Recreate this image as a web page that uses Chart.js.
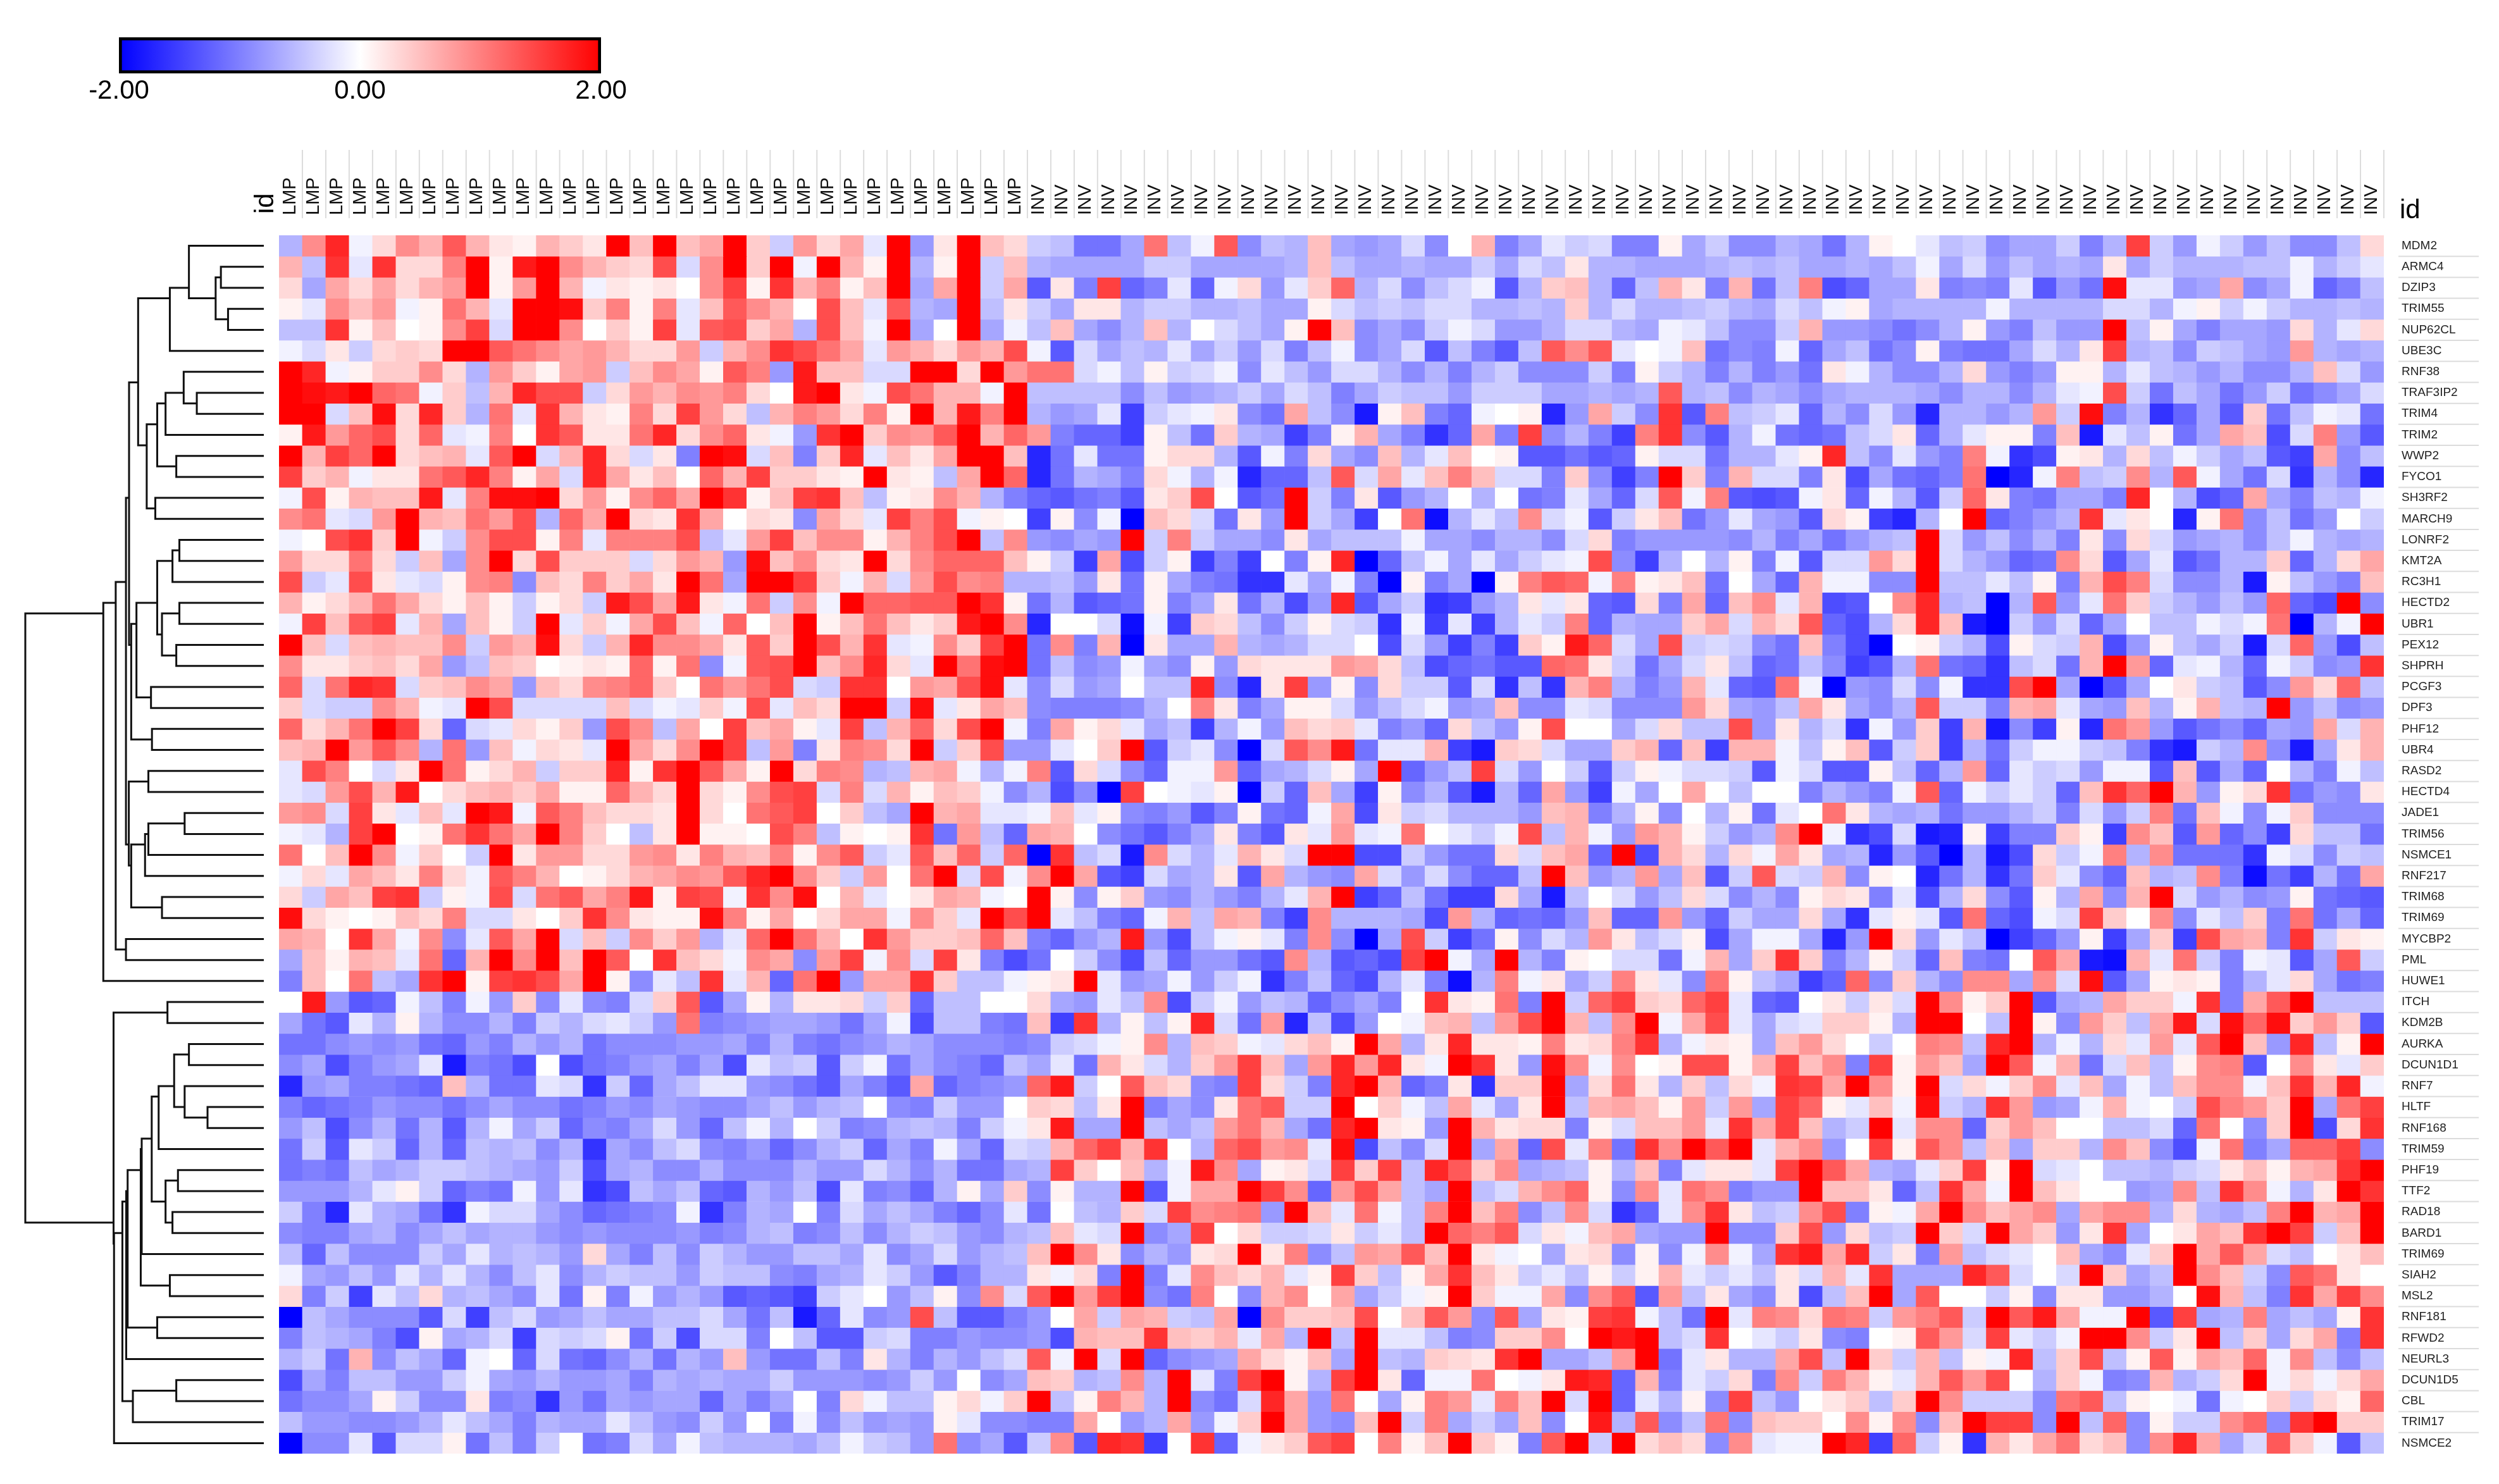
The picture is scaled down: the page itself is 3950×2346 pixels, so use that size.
<!DOCTYPE html>
<html>
<head>
<meta charset="utf-8">
<title>Heatmap</title>
<script src="https://cdn.jsdelivr.net/npm/chart.js@4/dist/chart.umd.min.js"></script>
<style>
  html, body { margin: 0; background: #fff; }
  canvas { position: absolute; }
</style>
</head>
<body>
<canvas id="scaleBar" width="1060" height="130" style="left:0;top:40px"></canvas>
<canvas id="tree" width="430" height="1926" style="left:0;top:372px"></canvas>
<canvas id="heat" width="3950" height="2346" style="left:0;top:0"></canvas>
<script>
/* ===============================
   DATA
================================ */
const groupLmp = Array(32).fill("LMP");
const groupInv = Array(58).fill("INV");
const sampleLabels = groupLmp.concat(groupInv);

const rowNames = ["MDM2","ARMC4","DZIP3","TRIM55","NUP62CL","UBE3C","RNF38","TRAF3IP2","TRIM4","TRIM2",
  "WWP2","FYCO1","SH3RF2","MARCH9","LONRF2","KMT2A","RC3H1","HECTD2","UBR1","PEX12",
  "SHPRH","PCGF3","DPF3","PHF12","UBR4","RASD2","HECTD4","JADE1","TRIM56","NSMCE1",
  "RNF217","TRIM68","TRIM69","MYCBP2","PML","HUWE1","ITCH","KDM2B","AURKA","DCUN1D1",
  "RNF7","HLTF","RNF168","TRIM59","PHF19","TTF2","RAD18","BARD1","TRIM69","SIAH2",
  "MSL2","RNF181","RFWD2","NEURL3","DCUN1D5","CBL","TRIM17","NSMCE2"];

// cell values in tenths of the colour scale, -20 to 20
const row00 = [-6,9,17,-1,3,9,6,13,6,2,1,6,4,2,20,5,20,5,7,20,4,-4,8,3,7,-2,20,-8,2,20, 5,3,-4,-5,-11,-11,-7,11,-5,-1,13,-9,-5,-6,5,-7,-8,-7,-3,-9,0,6,-10,-7,-2,-4,-3,-10,-10,1, -7,-4,-9,-9,-6,-7,-11,-6,1,0,-2,-5,-4,-9,-7,-7,-4,-10,-6,15,-4,-8,-1,-4,-8,-5,-9,-9,-5,3];
const row01 = [6,-5,16,-2,16,3,3,10,20,1,18,20,9,6,4,3,14,-3,9,20,4,20,-1,20,6,1,20,-6,1,20, -4,5,-6,-7,-7,-7,-7,-4,-4,-7,-7,-7,-7,-6,5,-5,-7,-7,-6,-7,-7,-4,-7,-3,-5,2,-6,-6,-7,-7, -7,-6,-5,-6,-5,-7,-7,-6,-7,-5,-1,-7,-3,-8,-5,-7,-6,-7,2,-7,-4,-6,-6,-6,-5,-5,-1,-6,-4,-2];
const row02 = [3,-7,7,3,7,3,6,8,20,1,8,20,6,-1,2,1,2,0,9,15,1,16,6,10,1,5,20,-7,7,20, -4,7,-13,2,-10,15,-12,-10,-2,-12,-1,3,-8,-2,4,12,-6,-3,-9,-5,-3,-1,-13,-6,4,5,-6,-12,-5,6, 2,-10,6,-11,-5,10,-14,-12,-7,-7,2,-10,-9,-10,-2,-13,-8,-11,19,-2,-2,-8,-7,7,-9,-7,-1,-12,-10,-5];
const row03 = [1,-2,9,5,8,-1,1,11,6,-2,20,20,19,4,10,1,10,-2,5,13,9,6,0,14,5,-2,13,-6,-7,20, -5,2,-4,-7,2,2,-6,-4,-4,-6,-6,-5,-7,-7,1,-3,-5,-4,-5,-3,-3,-6,-6,-5,-6,4,-6,-3,-6,-6, -5,-4,-6,-7,-3,-5,-1,1,-7,-6,-6,-6,-6,-1,-6,-6,-6,-6,-3,-3,-6,-1,1,-4,-1,-4,-6,-6,-5,-6];
const row04 = [-5,-5,16,1,5,0,1,9,15,-3,20,20,9,0,4,1,15,-2,13,14,4,7,-6,14,5,-1,20,-7,0,20, -7,-1,-5,5,-7,-9,-6,5,-6,0,-3,-5,-7,1,20,5,-9,-7,-9,-4,-1,-3,-8,-8,-6,-3,-3,-6,-7,-1, -2,-5,-9,-9,-4,6,-8,-8,-9,-11,-9,-6,1,-8,-10,-5,-8,-8,20,-5,1,-7,-10,-7,-7,-8,3,-6,-2,3];
const row05 = [-1,-3,2,-4,3,4,3,20,20,13,11,9,7,8,6,3,3,8,-4,6,9,16,14,11,7,-2,8,6,3,8, 6,14,-1,-13,-3,-7,-5,-6,-2,-7,-4,-8,-3,-10,-5,-1,-9,-7,-3,-13,-5,-10,-13,-5,13,9,13,-2,0,-1, 5,-11,-9,-10,-1,-12,-7,-5,-11,-9,1,-10,-11,-11,-7,-3,-6,2,15,-6,-5,-9,-4,-5,-7,-8,8,-6,-7,-6];
const row06 = [20,17,-1,1,4,4,9,3,-6,8,4,1,7,8,-4,5,9,7,1,13,10,-8,18,5,5,-3,-3,20,20,3, 20,8,11,11,-3,-1,-5,1,-4,-3,-1,-9,-2,-5,-8,-3,-3,-6,-9,-6,-10,-6,-4,-9,-9,-9,-4,-10,1,-4, -6,-10,-6,-10,-8,-11,2,-1,-6,-9,-9,-6,3,-8,-10,-8,1,1,-6,-2,-5,-6,-8,-6,-9,-9,-6,5,-3,-8];
const row07 = [20,19,18,20,12,11,-1,4,-5,6,17,14,14,-4,3,8,6,9,8,10,3,0,18,20,2,-1,14,11,6,6, -1,20,-5,-5,-5,-5,-9,-5,-8,-7,-6,-4,-7,-3,-5,-10,-7,-4,-5,-5,-8,-4,-4,-4,-7,-7,-6,-7,-6,13, -6,-5,-9,-6,-7,-9,-7,-6,-6,-6,-7,-9,-6,-6,-9,-6,-2,-1,14,-4,-11,-5,-7,-11,-8,-4,-11,-9,-7,-3];
const row08 = [20,20,-3,5,19,3,17,4,-6,11,-2,16,6,2,1,10,3,15,8,3,-5,6,10,8,3,10,1,20,6,18, 10,20,-6,-8,-7,-2,-15,-4,-2,-1,2,-9,-11,7,-5,-9,-18,1,5,-10,-12,-1,0,1,-17,-8,7,-4,-9,16, -13,10,-5,-4,-2,-12,-6,-9,-3,-8,-17,-6,-6,-8,-6,8,-4,19,-10,-6,-16,-12,-7,-13,4,-11,-5,-1,-2,-11];
const row09 = [1,18,8,12,14,3,12,-2,-1,10,0,16,13,2,2,11,17,3,9,12,2,-1,-8,16,20,4,9,8,13,20, 6,12,8,-10,-12,-12,-15,1,-5,-11,4,-6,-7,-15,-10,1,6,-7,-10,-16,-12,7,-10,15,-9,-6,-10,-15,10,16, -9,-13,-6,-1,-11,-12,-11,-5,-3,2,-12,-6,-2,1,1,-10,5,-18,-2,-5,1,-11,-7,7,5,-14,-3,10,-8,-13];
const row10 = [20,6,15,12,20,3,5,6,-2,13,20,-3,6,17,3,-3,2,-10,20,19,-3,5,-10,4,17,-2,5,2,7,20, 20,5,-17,-11,-2,-11,-11,1,3,3,-6,-13,-1,-10,3,-7,-9,5,-6,-2,5,0,1,-13,-13,-11,-13,-12,1,-3, -3,-11,-6,-6,-2,1,17,-5,-9,-2,-8,-10,10,-1,-16,-14,1,2,-6,3,-5,-1,-4,-7,-5,-13,-15,7,-9,-5];
const row11 = [15,4,6,-1,2,2,11,13,17,10,1,7,-3,17,7,2,5,0,12,6,15,4,4,2,1,20,2,1,-5,7, 20,12,-17,-11,-6,-7,-10,3,-1,-6,-1,-17,-12,-12,-5,13,-3,7,-2,5,10,5,-3,-3,-10,4,-9,-15,-10,20, 4,-10,6,-3,-3,-10,2,-14,-7,-11,-12,-10,11,-20,-17,-1,10,-5,-4,9,-6,13,-1,-7,-11,-3,-16,-6,-9,-17];
const row12 = [-1,14,1,6,5,5,18,-2,10,19,19,20,3,8,1,9,12,7,20,16,1,5,15,16,5,-5,1,2,9,6, -6,-10,-12,-13,-11,-10,-13,2,4,14,0,-13,-11,20,-4,-10,2,-13,-8,-6,0,-6,0,-11,-10,-2,-7,-12,-3,13, -1,10,-13,-14,-13,-1,2,-12,-1,-6,-13,-4,12,2,-10,-11,-7,-7,-10,17,0,-6,-14,-12,7,-7,-10,-5,-6,-1];
const row13 = [9,11,-2,-3,8,20,6,5,11,8,14,-6,12,7,20,3,2,16,7,0,3,2,-9,7,3,-2,15,10,14,-1, 1,0,-15,1,-9,-1,-20,5,3,-3,-11,2,-8,20,-4,-7,-15,0,11,-19,-6,-2,-5,9,-3,-1,-13,-4,2,5, -11,-8,-2,-7,-8,-13,3,1,-15,-17,-6,0,20,-12,-10,-8,-6,16,-2,2,0,-17,1,11,-9,-5,-11,-8,0,-4];
const row14 = [-1,0,14,16,4,20,-1,-4,9,14,14,1,10,-2,10,10,10,14,-5,-2,8,15,5,9,9,1,6,10,14,20, -5,9,-8,-9,-7,-8,20,-4,10,-4,-7,-7,-9,2,-7,-5,-5,-5,-1,-7,-7,-9,-6,-6,-9,-3,3,-10,-8,-8, -8,-8,-9,-6,-10,-7,-11,-8,-6,-5,20,-3,-8,-5,-9,-6,-10,2,-9,3,-3,-8,-7,-6,-9,-5,-1,-6,-7,-6];
const row15 = [8,3,3,11,3,-4,5,-7,9,20,3,14,4,4,4,-3,3,8,6,-8,19,5,9,3,2,20,3,9,12,12, 12,5,1,-4,-15,7,-14,-4,1,-15,-10,-15,0,-10,1,17,-20,-12,-5,-1,-7,-2,-7,-4,-2,-1,14,-9,-15,-6, 0,-6,1,-10,-1,-13,-3,-3,8,3,20,-3,-6,-8,-12,-11,9,3,-13,-7,-2,-13,-11,-6,-6,4,-12,-6,3,7];
const row16 = [14,-4,-2,14,2,-2,-3,1,9,10,-9,5,3,10,4,7,2,20,11,-7,20,20,15,4,-1,6,-3,8,14,9, 10,-6,-6,-5,-8,2,-11,1,-7,-10,-11,-16,-16,-2,-7,-1,-10,-20,1,-10,-7,-20,1,10,13,12,-1,10,1,2, 5,-11,0,-7,-12,6,-1,-1,-9,-9,20,-5,-5,-2,-5,1,-10,6,14,10,-3,-9,-9,-6,-18,1,-5,-8,-10,5];
const row17 = [6,1,3,6,11,7,3,1,5,1,-4,1,3,-4,18,14,7,18,2,-1,11,-4,9,-1,20,12,12,13,13,20, 16,1,-11,-6,-13,-12,-11,1,-10,-7,2,-11,-6,-14,-8,17,-13,-7,-4,-16,-15,-8,-6,2,-2,2,-12,-13,3,-10, 7,-12,5,9,-2,6,-14,-13,0,9,17,-6,-5,-20,-6,13,-8,-2,11,4,-4,-6,-8,-5,-8,12,-12,-14,20,-9];
const row18 = [-1,15,5,13,15,-2,6,-7,5,1,-4,20,-2,4,-1,7,14,5,-1,12,0,5,20,1,5,11,5,2,4,18, 20,9,-17,0,0,-3,-19,-1,-15,4,3,-5,-9,-4,1,-3,-4,-16,-1,-15,-2,-15,-6,-2,-4,10,-12,-6,-7,-7, 4,7,-3,6,3,13,-12,-14,-6,3,17,5,-18,-20,-4,-8,-3,-12,-7,0,-5,-5,-1,-3,-1,11,-20,-6,-1,20];
const row19 = [20,5,-3,5,6,5,5,9,-4,8,6,19,3,-4,6,17,9,9,7,2,13,4,20,14,6,16,-2,-1,9,4, 15,20,-11,9,-10,6,-20,2,-7,-7,6,-6,-7,-6,-3,-3,0,-14,-3,-8,-15,-10,-15,4,1,18,12,-3,-7,14, -4,-3,-4,-9,-11,5,-10,-14,-20,0,1,-4,-6,-14,1,-3,-4,6,-14,-8,1,-5,-7,-4,-18,-3,12,-8,-14,-5];
const row20 = [9,2,2,4,5,3,7,-8,-5,5,4,0,1,2,1,12,1,11,-9,-1,13,14,20,5,9,17,3,-2,20,11, 19,20,-11,-5,-9,-8,-1,-7,-9,1,-8,3,2,2,2,8,7,3,-5,-14,-12,-11,-13,-13,12,11,2,-4,-11,-7, -3,2,-5,-12,-11,-5,-9,-15,-13,-6,11,-11,-12,-16,-5,-3,-11,6,20,8,-12,-2,-1,-6,-12,-1,-4,-9,-8,16];
const row21 = [12,-3,11,17,16,-3,4,5,9,7,-8,5,3,9,10,12,4,0,11,8,11,14,-3,-4,16,16,0,8,7,14, 19,-2,-9,-3,-8,-7,0,-5,-5,17,-9,-17,2,15,-8,1,-9,3,-4,-4,-13,-3,-16,-5,-16,6,10,-6,-10,-8, 6,-2,-12,-13,11,-1,-20,-8,-9,-3,-9,-1,-16,-16,14,20,-7,-20,-13,-7,0,2,-4,-5,-13,-9,8,3,12,-5];
const row22 = [4,-3,-4,-4,9,6,-1,-2,20,14,-3,-3,-3,-3,5,-3,-1,-2,4,-1,14,-2,5,3,20,20,-4,19,-2,2, 7,5,-9,-10,-10,-10,-9,-6,0,10,2,-10,-7,1,1,-3,-8,-5,-3,-1,-8,-7,5,-9,-9,-2,-3,-9,-9,-9, 8,3,-7,-8,-5,7,2,-7,-9,-6,13,-4,-4,-10,6,7,-2,-7,-8,5,-6,1,6,-5,-6,20,-8,-5,-9,-8];
const row23 = [12,3,6,11,20,15,3,-12,-3,-2,3,1,4,-8,14,9,-5,7,0,15,5,7,1,-2,15,-5,6,12,3,14, 20,-1,-10,7,1,3,-2,-7,-5,-15,-6,-1,-8,5,3,4,-2,-10,-8,-12,3,-5,-8,1,14,0,0,-7,-3,3, -5,-5,14,-8,2,-6,-3,-16,-1,-8,4,-15,6,-18,-9,-15,1,-17,11,8,-8,-13,-11,-9,-12,-7,-8,7,-3,6];
const row24 = [5,6,20,8,13,9,-6,11,-8,5,-1,3,2,-2,20,7,3,9,20,15,-5,8,-10,2,10,9,3,20,-4,4, 14,-8,-8,-2,0,4,20,-13,-4,-2,-9,-20,-3,13,9,18,-11,-2,-2,6,-15,-18,4,3,-3,-7,-7,4,6,-12, 5,-15,6,6,-1,-5,1,5,-13,-4,4,-15,-6,-11,-4,-1,-1,-4,-5,-10,-16,-18,-4,-6,9,-9,-18,-7,2,6];
const row25 = [-2,14,10,0,-3,2,20,11,1,3,6,-4,4,4,17,1,16,20,13,7,1,20,3,10,9,-6,-5,6,7,-1, -6,-1,10,-13,3,-3,-9,-12,-1,-1,8,-12,-7,-6,-3,1,-7,20,-12,-8,-5,15,-3,-8,0,-4,-13,-4,1,-1, -3,-3,-4,-13,-1,-3,-13,-13,1,-5,-12,-6,8,-12,-2,-4,-3,-8,-1,-1,-13,5,-13,-7,-12,0,-6,-10,-1,-5];
const row26 = [-2,-3,8,14,6,18,0,3,5,6,4,7,1,1,12,6,3,20,3,1,9,14,15,-3,10,-3,6,1,5,4, -1,-9,-6,-14,-9,-20,15,0,-1,-2,1,-20,-4,-12,5,-7,-15,1,-9,-6,-13,-18,-6,-12,7,-8,-15,-1,-7,0, 7,0,-5,0,0,-10,-6,-8,-10,-1,13,-12,-1,-4,-2,-4,-12,5,16,12,20,6,-8,1,3,16,-11,-8,-9,2];
const row27 = [8,9,-3,15,2,-2,5,-2,20,18,-1,13,10,5,3,3,2,20,3,0,11,13,15,0,4,-5,-7,20,6,7, -2,-2,-1,5,-2,1,-9,-10,-8,-13,-10,1,-11,-12,-1,7,-14,2,-4,-3,-6,-6,-6,-8,5,6,-10,-6,1,-9, 0,-6,1,-11,-2,0,11,2,-6,-7,-6,-11,-8,-8,-6,-4,-10,-3,-8,-4,10,-11,5,-1,-9,-1,4,-9,-9,-9];
const row28 = [-1,-2,-6,15,20,0,1,11,16,11,7,20,10,4,0,-5,2,20,1,1,0,14,10,-5,1,0,1,16,-11,8, -5,-12,7,6,0,-9,-11,-13,-10,-7,2,-10,-13,2,-2,8,-2,-1,11,0,-2,-4,-1,14,-5,6,-1,-8,8,6, 1,-4,-8,-6,9,20,-1,-16,-14,-3,-18,-17,1,-15,-10,-10,4,1,-15,9,5,-13,8,-12,-9,-15,3,-5,-5,-11];
const row29 = [11,0,5,20,9,-1,4,0,-4,20,2,8,8,3,3,8,9,2,10,6,5,10,1,9,13,-4,-2,13,5,12, -4,12,-20,16,-5,-3,-18,9,-3,-6,-2,6,2,-3,20,20,-14,-14,-4,-8,-11,-11,3,-3,5,7,-12,20,-14,6, 3,-6,3,-1,7,2,-7,-6,-17,-8,-13,-20,-6,-18,-14,3,-4,-1,10,-6,9,-11,-11,-11,-16,-1,-3,-9,-4,-5];
const row30 = [-1,3,-2,7,5,2,10,3,-1,13,10,6,0,1,3,6,7,9,8,13,17,20,9,4,-4,8,0,11,20,-3, 14,-1,9,20,7,-13,-15,-3,-7,-6,2,-13,7,-6,-8,-9,7,-3,-8,-3,-9,-12,-12,-5,20,5,-8,-6,8,-7, 5,-13,-4,13,-3,-4,6,-9,1,0,-17,-11,-6,-16,-11,4,-2,-9,-12,5,-6,-5,9,-10,-19,-11,-15,-6,-11,7];
const row31 = [3,-4,7,5,15,16,-4,1,-1,14,-3,11,13,7,10,18,1,15,14,-1,16,9,19,0,6,-2,0,2,7,6, -1,0,20,1,-9,1,4,-8,-9,-6,-8,-10,-6,-2,6,20,-15,-12,-5,-11,-15,-15,3,-7,-18,-5,0,-3,-8,-5, 3,-3,-9,-6,-9,1,3,2,-10,-2,-14,-6,3,-9,-13,1,-6,7,-9,6,20,-3,-8,-6,-9,-8,1,-11,-12,-13];
const row32 = [19,3,1,0,1,5,3,10,-3,-3,2,0,4,16,9,2,1,1,19,10,1,7,0,3,7,7,-1,9,4,-2, 20,14,20,-2,-5,-10,-12,-1,6,-5,7,6,-10,-15,9,-6,-6,-6,-7,-14,8,-6,-12,-11,-12,-8,5,-12,-12,8, -8,-12,-4,-7,-7,3,-7,-16,-2,1,-2,-13,11,-12,-14,-1,-3,15,4,0,9,-9,-2,-5,4,-10,11,-11,-7,-12];
const row33 = [7,6,0,16,7,-1,9,-9,-2,13,7,20,-3,5,-4,9,4,8,-6,-2,12,20,11,6,0,16,8,4,4,5, 12,5,-10,-12,-8,-6,18,-8,-14,-5,-1,1,-2,-10,9,-9,-20,-7,14,-4,-15,-11,1,-9,-3,-6,8,2,-5,-3, 1,-14,-7,-1,-1,-7,-17,-8,20,3,-8,-2,-5,-20,-15,-12,-8,1,-15,-7,4,-15,14,7,6,-10,16,-4,2,1];
const row34 = [-7,5,1,6,5,-2,11,-12,6,20,9,20,5,20,13,0,16,5,3,-1,9,7,-9,8,15,-1,9,-3,15,2, -10,-14,-11,0,-4,-9,-14,-5,-12,-8,-8,-11,-13,9,-6,-13,-12,-14,15,20,-1,-7,20,-6,-10,1,0,-3,-3,-11, -1,6,-7,4,16,4,-10,-6,1,-4,-12,5,-10,-11,0,13,7,-18,-19,6,-2,11,-4,-10,-1,-2,-13,-7,13,-4];
const row35 = [-10,5,0,11,-5,-7,16,20,1,15,16,14,7,20,1,-9,-2,-5,16,-2,6,-12,11,20,-8,7,7,16,4,-5, -5,-1,1,2,20,-2,-8,-7,-1,-8,-4,-1,-16,-10,-5,-12,-14,-6,-2,-10,-19,-6,10,-1,2,-7,-4,10,2,-2, -9,11,1,-5,-7,-15,-12,12,-9,4,-6,-9,9,9,-7,9,-3,19,-13,-7,1,2,1,-10,-6,-2,3,-7,-11,-10];
const row36 = [0,18,-8,-13,-12,-1,-5,-10,-1,-8,4,-9,-2,-9,-10,-3,4,13,-13,-7,1,-6,2,2,3,-4,4,-12,-5,-5, 0,0,3,-7,-8,-2,-5,9,-14,-4,-1,-8,-5,-6,-12,-9,-7,-10,0,16,2,1,11,-10,20,-4,12,15,4,3, 12,15,-2,-12,-13,0,2,-4,2,-3,20,9,1,4,20,-13,-7,-6,7,4,4,-1,16,-10,7,13,20,-5,-5,-5];
const row37 = [-7,-11,-13,-2,-6,1,-6,-9,-9,-6,-10,-4,-6,-3,-2,-4,-8,11,-10,-9,-8,-7,-7,-8,-11,-7,-1,-14,-5,-5, -10,-11,5,-15,16,-6,1,-5,1,17,-3,-11,8,-17,-5,-14,-8,0,-1,5,6,-5,8,14,20,6,-5,9,20,-1, 7,14,-2,-7,-3,-2,4,4,1,-6,20,20,0,-5,20,1,-9,8,4,-5,7,18,-3,19,12,19,4,8,4,-13];
const row38 = [-11,-11,-9,-8,-9,-8,-11,-12,-8,-10,-6,-8,-6,-11,-9,-9,-9,-8,-8,-7,-10,-6,-10,-11,-9,-8,-6,-7,-9,-9,-9,-10,-9,-4,-3,-1,1,9,-6,5,4,-1,-2,3,5, 1,20,7,-6,2,17,2,2,1,10,2,3,10,16,-6,-1,2,1,-7,5,8,3,0,-4,0,10,9,-5,17,20,-6,-1,-6,3,-2,8,-2,13,20,5,-8,17,-5,1,20];
const row39 = [-9,-7,-14,-10,-8,-7,-2,-18,-10,-11,-14,0,-14,-11,-10,-8,-7,-10,-7,-14,-2,-5,-4,-13,-4,-1,-11,-7,-9,-10,-12,-5,-7,-2,-11,6,2,-3,-6,4,8,15,5,-7,8, 17,8,17,2,-1,20,16,2,-8,19,9,-1,9,0,1,14,14,1,6,15,5,9,-10,15,1,8,5,-7,20,13,-1,6,-11,-3,5,-5,1,9,10,-13,0,9,2,-2,4];
const row40 = [-17,-8,-7,-10,-10,-11,-12,5,-6,-11,-11,-2,-3,-16,-4,-12,-7,-5,-2,-2,-8,-9,-11,-13,-7,-10,-13,7,-12,-10,-9,-8,12,18,-4,0,13,5,3,-9,-10,15,3,-4,-10, 17,20,6,-12,-10,2,-16,4,4,20,-7,3,11,2,-6,4,-5,3,-1,16,15,7,20,9,1,20,-3,3,-1,4,9,-2,5,-7,-1,-5,5,9,9,-1,5,16,6,17,-1];
const row41 = [-10,-12,-11,-10,-8,-9,-9,-11,-9,-7,-9,-9,-11,-10,-8,-9,-7,-8,-9,-9,-7,-5,-8,-6,-5,0,-9,-10,-4,-8,-8,0,4,3,-5,2,20,-10,-7,-9,2,11,13,-4,-4, 20,0,4,-1,-5,7,-2,-7,2,20,-5,6,7,5,1,8,-4,8,-7,15,12,1,-2,5,-1,19,-4,-6,16,8,-8,-7,-1,6,-1,0,-4,14,10,8,4,20,-7,11,15];
const row42 = [-8,-5,-14,-9,-6,-11,-6,-13,-6,-1,-7,-4,-12,-9,-10,-7,-3,-8,-12,-5,-1,-6,0,-4,-10,-9,-6,-5,-6,-10,-4,-1,2,18,-7,-7,20,-5,-7,-5,8,11,6,-7,-11, 17,20,2,1,-8,20,6,2,3,3,-10,1,-3,5,5,8,-2,16,7,15,5,-6,-4,20,-2,9,9,-12,4,8,5,0,0,-5,-5,-3,-12,11,0,-9,4,20,-14,3,16];
const row43 = [-11,-4,-13,-2,-4,-12,-6,-12,-5,-6,-5,-9,-6,-16,-7,-9,-5,-3,-9,-10,-8,-12,-9,-6,-4,-12,-7,-10,-1,-7,-12,-3,-4,6,12,15,6,16,0,-6,12,14,8,9,-2, 19,-14,-5,-9,-3,20,-7,7,-12,14,-2,10,-11,16,9,20,13,20,-2,6,9,-8,0,15,1,13,9,-5,5,-7,4,4,-6,9,5,-9,-14,-1,11,-10,-7,12,12,15,-9];
const row44 = [-11,-10,-11,-5,-7,-6,-4,-4,-5,-6,-7,-8,-4,-14,-7,-6,-9,-9,-6,-9,-9,-9,-6,-8,-8,-3,-6,-9,-6,-11,-11,-7,-6,15,4,0,5,-6,-1,18,9,-7,1,2,-3, 15,4,15,-5,17,13,4,9,-7,-6,-5,1,-6,5,-10,-2,2,2,-2,15,20,13,7,-6,-7,-2,4,15,1,20,-3,-2,0,-5,-5,-6,-4,-3,2,5,1,6,7,16,20];
const row45 = [-8,-8,-8,-6,-2,1,-4,-12,-10,-11,-1,-8,-2,-16,-14,-5,-7,-5,-12,-13,-6,-8,-5,-14,-2,-10,-9,-12,-6,1,-7,4,-9,1,-6,-6,20,-13,-1,7,7,20,15,9,-12, 8,14,7,-5,-7,20,-5,-3,6,9,12,1,-9,9,-2,11,9,-10,-8,-8,20,5,5,2,-12,-5,16,7,-1,20,5,2,0,0,-8,-7,9,-5,16,9,-1,-6,2,20,16];
const row46 = [-4,-10,-17,-2,-6,-7,-11,-16,-1,-3,-3,-7,-9,-12,-11,-10,-9,-1,-16,-10,-6,-7,0,-10,-3,-7,-5,-7,-10,-12,-9,-2,-11,0,-5,-6,4,-3,15,9,10,11,-8,20,5, -2,11,-1,-5,10,20,5,10,-9,-5,9,-3,-16,-12,-2,9,16,2,-5,-4,9,14,-10,1,-1,7,20,9,5,7,9,-7,7,9,9,-6,3,-6,-7,-5,10,20,6,7,20];
const row47 = [-9,-10,-10,-7,-6,-9,-7,-5,-7,-6,-6,-8,-9,-8,-9,-9,-9,-8,-10,-9,-6,-5,-10,-9,-5,-9,-6,-4,-5,-8,-9,-6,-5,5,-2,-3,20,-9,-7,15,0,3,-4,-4,-3, 2,-4,-2,-5,20,12,10,13,-3,2,-1,5,7,-7,-8,-8,20,-9,-9,4,14,-8,3,-5,-4,20,4,-3,20,7,4,-8,2,16,-7,0,2,7,5,16,20,15,-4,5,20];
const row48 = [-5,-12,-5,-9,-9,-9,-4,-7,-2,-6,-5,-6,-8,3,-7,-10,-5,-9,-4,-6,-8,-8,-5,-5,-7,-2,-9,-7,-3,-8,-6,-5,5,20,9,2,-9,-6,-8,2,3,20,2,10,-9, -5,8,7,13,5,20,2,-1,0,-7,2,3,-9,1,-9,-1,9,-1,-7,16,18,7,17,-4,2,-10,8,-5,-3,-2,0,5,-7,-9,-2,4,20,7,13,7,-3,-5,0,2,5];
const row49 = [-1,-7,-8,-5,-8,-2,-6,-2,-6,-9,-5,-2,-9,-6,-4,-5,-5,-8,-4,-5,-5,-9,-10,-7,-6,-2,-4,-8,-13,-10,-6,-6,2,-1,3,-10,20,-10,-2,9,5,3,6,-2,1, 15,4,-5,1,7,16,5,2,-4,-2,-5,1,-4,1,6,-2,-4,-2,-5,2,-3,6,-2,16,-7,-7,-7,17,13,-3,0,-3,20,4,-7,-5,20,9,5,-4,-9,13,11,2,0];
const row50 = [3,-10,-4,-15,-2,-5,3,-6,-5,-7,-9,-2,-11,1,-10,-1,-8,-6,-8,-13,-12,-13,-15,-4,-2,0,-8,-5,1,-9,9,-3,13,20,8,15,20,-9,-11,10,0,-9,6,9,0, 7,-7,-4,-1,1,20,4,-1,-1,7,-9,9,13,-13,8,-5,2,-7,-9,2,-14,-5,5,20,-7,13,0,0,-4,1,-9,2,2,-8,-8,-6,0,19,6,-5,-10,16,7,15,9];
const row51 = [-20,-5,-7,-9,-9,-9,-13,-3,-15,-5,-3,-8,-7,-5,-7,-7,-5,-5,-3,-7,-11,-5,-18,-12,-2,-9,-8,14,-5,-13,-13,-10,-8,0,7,-4,7,6,-4,-5,7,-20,9,4,4, 5,14,0,5,13,8,-9,13,-7,2,1,15,16,-1,-5,-11,20,-2,10,9,3,11,10,-4,8,10,13,-4,20,13,18,7,-1,-1,20,-13,15,-7,-6,10,-7,-5,-7,1,16];
const row52 = [-10,-5,-6,-7,-10,-14,1,-7,-6,-3,-15,-3,-4,-3,1,-11,-4,-14,-3,-3,-10,0,-5,-13,-13,-4,-3,-10,-10,-8,-9,-9,-8,-14,6,5,5,16,5,4,6,-2,7,-6,20, -5,20,-2,-2,-5,-10,-9,4,4,9,0,20,18,20,-5,-3,16,0,-2,-4,2,-9,-10,0,1,13,8,-3,15,-2,-4,-1,20,20,9,-4,2,20,-5,4,-7,3,7,-10,16];
const row53 = [-6,-4,-11,6,-9,-5,-7,-12,-1,0,-12,-3,-11,-12,-9,-6,-11,-6,-8,5,-8,-11,-11,-5,-10,2,-6,-10,-6,-8,-5,-3,13,-1,20,-3,20,-12,-9,-8,-7,7,3,1,5, -7,20,-5,-6,4,3,2,16,20,-7,-7,-5,8,20,-11,-2,2,-6,-6,7,14,-5,20,4,-4,6,-5,1,-1,17,-5,4,14,-5,1,13,1,7,5,12,-1,9,-5,-9,-5];
const row54 = [-14,-7,-10,-5,-5,-8,-8,-4,-1,-7,-8,-6,-8,-8,-7,-10,-6,-7,-6,-7,-7,-4,-8,-8,-8,-9,-8,-4,-8,0,-9,-7,5,4,-6,-5,9,-6,20,-2,-10,15,20,1,-6, 15,20,2,-12,-1,-1,11,0,-1,2,18,17,-12,6,-10,-2,-4,3,-10,9,-4,10,6,1,-2,6,13,8,14,0,-6,4,-1,-10,-9,6,-6,-4,3,20,-1,3,-1,3,7];
const row55 = [-11,-9,-9,-7,1,-4,-9,-9,2,-10,-9,-16,-8,-11,-7,-8,-7,-7,-12,-7,-10,-7,0,-10,3,-1,-5,-5,1,3,-1,4,20,-5,1,10,6,-6,20,-9,-11,-3,17,7,-8, 11,0,-7,1,10,8,-2,10,5,20,-3,20,-12,-2,-6,1,-9,15,-5,-8,0,2,4,-5,4,20,9,-4,-4,-4,-9,11,13,-5,1,0,-1,-11,-1,0,4,-4,3,1,12];
const row56 = [-5,-8,-8,-9,-9,-8,-6,-2,-5,-7,-10,-6,-7,-7,-2,-5,-8,-9,-4,-8,0,-10,-1,-9,-5,-8,-7,-8,1,-2,-9,-9,-10,-10,7,0,-8,-6,7,-8,-1,4,20,7,-8, -9,5,20,-4,10,-7,-4,-7,5,-9,0,18,-6,13,-9,-5,11,-9,5,4,4,0,9,1,9,-9,5,20,15,15,-9,20,-5,12,-9,1,-4,-4,9,12,-9,16,20,4,4];
const row57 = [-20,-9,-9,-2,-13,-3,-3,1,-11,-5,-10,-4,0,-11,-10,-3,-7,-1,-5,-6,-6,-6,-7,-5,-1,-4,-5,-8,11,-9,-7,-13,-4,9,-13,17,16,-15,0,16,-12,-1,2,4,13, 15,0,10,1,5,20,4,1,-10,13,20,-4,20,3,5,3,-9,9,-2,-1,-1,20,17,-15,12,-4,1,-16,6,2,7,11,3,5,-9,9,17,7,-7,-3,13,4,-1,-13,-5];

const heatRows = [row00,row01,row02,row03,row04,row05,row06,row07,row08,row09,
  row10,row11,row12,row13,row14,row15,row16,row17,row18,row19,
  row20,row21,row22,row23,row24,row25,row26,row27,row28,row29,
  row30,row31,row32,row33,row34,row35,row36,row37,row38,row39,
  row40,row41,row42,row43,row44,row45,row46,row47,row48,row49,
  row50,row51,row52,row53,row54,row55,row56,row57];

// dendrogram: leaves are 0-57, merge k gets node id 58 + k
const mergeLeft = [1,3,58,0,61,7,6,64,10,65,12,67,62,14,71,17,19,73,72,21,76,23,78,70,25,27,83,84,31,85,82,81,33,89,91,
  36,38,41,40,94,97,44,46,99,98,102,49,103,51,105,107,54,109,108,111,93,92];
const mergeRight = [2,4,59,60,5,8,63,9,11,66,13,68,69,15,16,18,20,74,75,22,77,24,79,80,26,28,29,30,32,86,87,88,34,90,35,
  37,39,42,95,96,43,45,47,100,101,48,50,104,52,106,53,55,56,110,57,112,113];
const mergeHeight = [.180,.150,.202,.314,.394,.281,.336,.412,.367,.447,.455,.491,.527,.354,.383,.354,.367,.427,.447,.473,.534,.469,.556,.565,.484,.332,.484,.498,.427,.556,.566,.578,.578,.621,.673,
  .404,.314,.236,.332,.376,.441,.360,.383,.412,.470,.512,.394,.516,.447,.571,.577,.367,.549,.593,.628,.630,1];

const scaleTicks = [-2, 0, 2];
const scaleColors = ["#0000ff", "#ffffff", "#ff0000"];

/* ===============================
   HELPERS
================================ */
const FONT = "'Liberation Sans', Arial, sans-serif";

function cellColor(v) {
  const t = Math.round(255 * (1 - Math.abs(v) / 20));
  return v >= 0 ? `rgb(255,${t},${t})` : `rgb(${t},${t},255)`;
}

/* ===============================
   HEATMAP
================================ */
const heatLines = {
  id: "heatLines",
  afterDraw(chart) {
    const { ctx, scales } = chart;
    const half = (scales.x.getPixelForValue(1) - scales.x.getPixelForValue(0)) / 2;
    ctx.save();
    ctx.strokeStyle = "#dcdcdc";
    ctx.lineWidth = 2;
    sampleLabels.forEach((_, i) => {
      const x = scales.x.getPixelForValue(i) + half;
      ctx.beginPath();
      ctx.moveTo(x, 237);
      ctx.lineTo(x, 345);
      ctx.stroke();
    });
    rowNames.slice(1).forEach((_, i) => {
      const y = scales.y.getPixelForValue(i + 1);
      ctx.beginPath();
      ctx.moveTo(3791, y);
      ctx.lineTo(3918, y);
      ctx.stroke();
    });
    // the two "id" captions
    ctx.fillStyle = "#000";
    ctx.font = "42px " + FONT;
    ctx.textBaseline = "alphabetic";
    ctx.fillText("id", 3793, 345);
    ctx.translate(432, 338);
    ctx.rotate(-Math.PI / 2);
    ctx.fillText("id", 0, 0);
    ctx.restore();
  }
};

new Chart(document.getElementById("heat"), {
  type: "bar",
  data: {
    labels: sampleLabels,
    datasets: heatRows.map((values, r) => ({
      label: rowNames[r],
      data: values.map(() => [r, r + 1]),
      backgroundColor: ctx => cellColor(values[ctx.dataIndex]),
      borderWidth: 0,
      grouped: false,
      barPercentage: 1,
      categoryPercentage: 1
    }))
  },
  options: {
    responsive: false,
    animation: false,
    layout: { padding: { left: 441, top: 230, bottom: 48, right: 0 } },
    plugins: { legend: { display: false }, tooltip: { enabled: false } },
    scales: {
      x: {
        type: "category",
        position: "top",
        grid: { display: false },
        border: { display: false },
        afterFit: s => { s.height = 142; },
        ticks: {
          autoSkip: false,
          minRotation: 90,
          maxRotation: 90,
          padding: 24,
          labelOffset: 34,
          color: "#111",
          font: { family: FONT, size: 29 }
        }
      },
      y: { display: false, min: 0, max: rowNames.length, reverse: true },
      rows: {
        type: "category",
        labels: rowNames,
        position: "right",
        offset: true,
        grid: { display: false },
        border: { display: false },
        afterFit: s => { s.width = 182; },
        ticks: {
          autoSkip: false,
          padding: 20,
          color: "#222",
          font: { family: FONT, size: 19 }
        }
      }
    }
  },
  plugins: [heatLines]
});

/* ===============================
   DENDROGRAM
================================ */
const nodeLeaves = id => id < rowNames.length
  ? [id]
  : nodeLeaves(mergeLeft[id - rowNames.length]).concat(nodeLeaves(mergeRight[id - rowNames.length]));
const nodeRow = id => {
  const leaves = nodeLeaves(id);
  return leaves.reduce((a, b) => a + b, 0) / leaves.length;
};
const nodeHeight = id => id < rowNames.length ? 0 : mergeHeight[id - rowNames.length];

new Chart(document.getElementById("tree"), {
  type: "scatter",
  data: {
    datasets: mergeHeight.map((h, k) => {
      const a = mergeLeft[k], b = mergeRight[k];
      return {
        data: [
          { x: nodeHeight(a), y: nodeRow(a) },
          { x: h, y: nodeRow(a) },
          { x: h, y: nodeRow(b) },
          { x: nodeHeight(b), y: nodeRow(b) }
        ],
        showLine: true,
        borderColor: "#111",
        borderWidth: 3,
        pointRadius: 0,
        clip: false
      };
    })
  },
  options: {
    responsive: false,
    animation: false,
    layout: { padding: { left: 40, right: 13, top: 0, bottom: 0 } },
    plugins: { legend: { display: false }, tooltip: { enabled: false } },
    scales: {
      x: { display: false, min: 0, max: 1, reverse: true },
      y: { display: false, min: -0.5, max: rowNames.length - 0.5, reverse: true }
    }
  }
});

/* ===============================
   COLOUR SCALE
================================ */
new Chart(document.getElementById("scaleBar"), {
  type: "bar",
  data: {
    labels: ["scale"],
    datasets: [{
      data: [[scaleTicks[0], scaleTicks[2]]],
      barPercentage: 1,
      categoryPercentage: 1,
      borderColor: "#000",
      borderWidth: 5,
      borderSkipped: false,
      backgroundColor: ctx => {
        const area = ctx.chart.chartArea;
        if (!area) return scaleColors[1];
        const g = ctx.chart.ctx.createLinearGradient(area.left, 0, area.right, 0);
        scaleColors.forEach((c, i) => g.addColorStop(i / (scaleColors.length - 1), c));
        return g;
      }
    }]
  },
  options: {
    indexAxis: "y",
    responsive: false,
    animation: false,
    layout: { padding: { left: 188, right: 110, top: 19, bottom: 0 } },
    plugins: { legend: { display: false }, tooltip: { enabled: false } },
    scales: {
      x: {
        min: scaleTicks[0],
        max: scaleTicks[2],
        grid: { display: false, drawTicks: false },
        border: { display: false },
        afterBuildTicks: axis => { axis.ticks = scaleTicks.map(value => ({ value })); },
        afterFit: s => { s.height = 54; },
        ticks: {
          padding: 3,
          color: "#000",
          font: { family: FONT, size: 42 },
          callback: v => Number(v).toFixed(2)
        }
      },
      y: { display: false }
    }
  }
});
</script>
</body>
</html>
